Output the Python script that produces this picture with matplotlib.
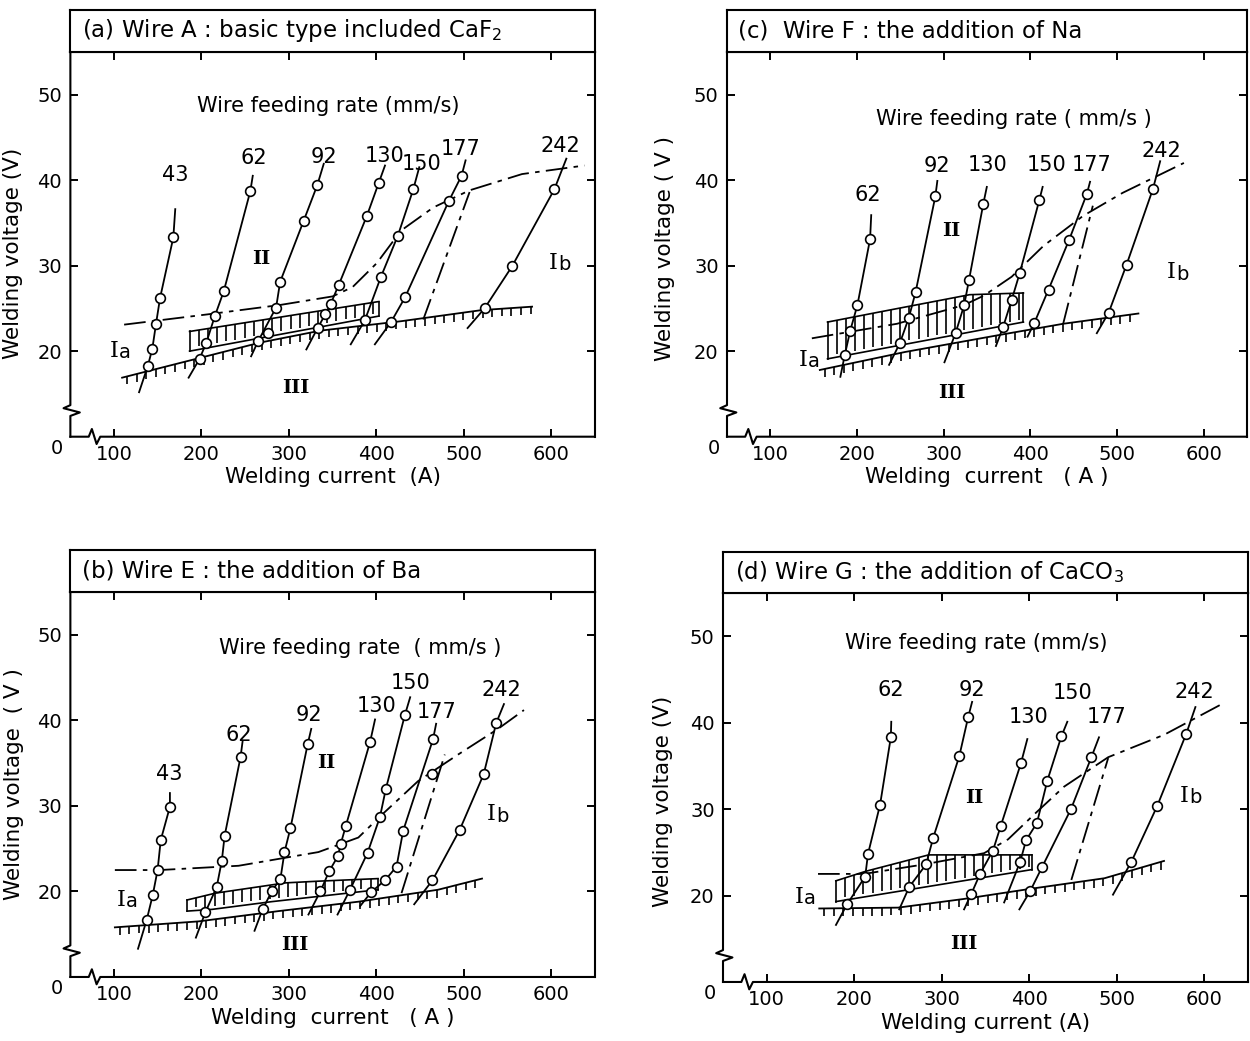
import numpy as np
import matplotlib.pyplot as plt

# ---------------- (a) Wire A ----------------
a_rates = [43, 62, 92, 130, 150, 177, 242]
a_cur = [[138.7, 143.8, 148.0, 152.6, 167.8],
         [197.8, 205.6, 215.3, 225.5, 255.9],
         [265.0, 285.4, 290.0, 316.8, 332.5],
         [332.9, 341.7, 347.7, 356.9, 389.2, 402.6],
         [386.9, 405.4, 424.7, 442.3],
         [416.9, 433.0, 482.8, 497.6],
         [523.9, 555.3, 603.7]]
a_volt = [[18.3, 20.3, 23.2, 26.2, 33.3],
          [19.1, 21.0, 24.1, 27.0, 38.7],
          [21.2, 25.1, 28.1, 35.2, 39.4],
          [22.7, 24.3, 25.5, 27.7, 35.8, 39.6],
          [23.6, 28.7, 33.5, 38.9],
          [23.4, 26.3, 37.5, 40.5],
          [25.0, 29.9, 38.9]]
a_lo_cur = [128.6, 185.3, 256.8, 320.0, 370.8, 398.4, 504.5]
a_lo_volt = [15.2, 16.9, 19.4, 20.2, 20.8, 20.8, 22.7]
a_hi_cur = [170.0, 258.7, 339.9, 410.0, 449.2, 502.2, 617.5]
a_hi_volt = [36.6, 40.5, 41.9, 41.7, 41.5, 42.3, 42.5]
a_extra_cur = [275.9]
a_extra_volt = [22.1]
a_bound_cur = [111.5, 207, 290, 350, 373, 400.7, 428.4, 465.3, 506.8, 566.8, 638.3]
a_bound_volt = [23.1, 24.3, 25.4, 26.4, 27.5, 30.3, 34.1, 36.8, 38.8, 40.7, 41.7]
a_steep_cur = [453.8, 506.8]
a_steep_volt = [23.7, 38.6]
a_low_cur = [109.2, 197.8, 267, 336.2, 428.4, 520.7, 578.3]
a_low_volt = [16.9, 19.2, 21.0, 22.4, 23.5, 24.8, 25.2]
a_band_top_cur = [186.4, 403]
a_band_top_volt = [22.3, 25.8]
a_band_bot_cur = [186.4, 403]
a_band_bot_volt = [20.0, 24.1]

# ---------------- (c) Wire F ----------------
c_rates = [62, 92, 130, 150, 177, 242]
c_cur = [[185.8, 192.2, 200.5, 215.1],
         [249.3, 259.8, 267.6, 290.4],
         [313.7, 323.7, 329.2, 345.7],
         [368.5, 378.5, 387.7, 410.5],
         [404.6, 421.0, 444.7, 465.3],
         [490.4, 511.0, 541.6]]
c_volt = [[19.5, 22.4, 25.4, 33.1],
          [20.9, 23.9, 26.9, 38.1],
          [22.1, 25.4, 28.3, 37.2],
          [22.8, 26.0, 29.1, 37.7],
          [23.3, 27.2, 33.0, 38.4],
          [24.5, 30.1, 39.0]]
c_lo_cur = [180.8, 237.0, 300.9, 360.3, 396.8, 476.7]
c_lo_volt = [17.0, 18.4, 18.7, 20.6, 21.7, 22.1]
c_hi_cur = [216.4, 292.7, 349.8, 414.2, 468.9, 549.8]
c_hi_volt = [35.9, 39.9, 39.2, 39.2, 39.8, 42.2]
c_extra_cur = []
c_extra_volt = []
c_bound_cur = [147.9, 246.1, 323.7, 346.6, 378.5, 415.1, 460.7, 506.4, 577.2]
c_bound_volt = [21.5, 23.2, 25.4, 26.5, 28.7, 32.3, 35.8, 38.5, 42.0]
c_steep_cur = [437.9, 472.1]
c_steep_volt = [23.2, 37.0]
c_low_cur = [157.1, 255.3, 364.8, 437.9, 524.7]
c_low_volt = [17.8, 19.9, 21.9, 23.2, 24.4]
c_band_top_cur = [166, 227, 330, 392]
c_band_top_volt = [23.4, 24.6, 26.6, 26.8]
c_band_bot_cur = [166, 392]
c_band_bot_volt = [19.1, 23.4]

# ---------------- (b) Wire E ----------------
b_rates = [43, 62, 92, 130, 150, 177, 242]
b_cur = [[137.4, 144.3, 149.8, 153.4, 163.9],
         [204.6, 217.4, 223.3, 226.5, 244.7],
         [269.9, 280.4, 290.4, 295.0, 301.8, 321.5],
         [336.0, 346.3, 356.0, 359.5, 365.0, 393.0],
         [370.0, 390.0, 404.2, 411.0, 432.7],
         [394.0, 410.0, 423.2, 430.8, 465.0],
         [464.3, 495.5, 522.9, 537.3]]
b_volt = [[16.7, 19.6, 22.5, 26.0, 29.9],
          [17.6, 20.5, 23.6, 26.5, 35.7],
          [17.9, 20.0, 21.5, 24.6, 27.4, 37.2],
          [20.0, 22.4, 24.1, 25.6, 27.6, 37.5],
          [20.2, 24.5, 28.7, 32.0, 40.6],
          [19.9, 21.3, 22.9, 27.1, 37.8],
          [21.3, 27.2, 33.7, 39.7]]
b_lo_cur = [127.4, 193.6, 260.7, 322.4, 355.7, 381.7, 443.4]
b_lo_volt = [13.3, 14.6, 15.4, 17.3, 17.3, 18.3, 18.5]
b_hi_cur = [163.9, 247.0, 325.6, 398.6, 438.8, 468.5, 546.1]
b_hi_volt = [31.5, 37.5, 39.0, 40.1, 42.7, 39.6, 41.9]
b_extra_cur = [464.0]
b_extra_volt = [33.7]
b_bound_cur = [100.9, 152.0, 242.5, 333.8, 379.5, 406.8, 447.9, 493.6, 539.3, 569.0]
b_bound_volt = [22.5, 22.5, 23.0, 24.6, 26.3, 29.0, 32.9, 36.0, 39.0, 41.2]
b_steep_cur = [428.9, 478.4]
b_steep_volt = [19.8, 36.0]
b_low_cur = [100.9, 196.8, 288.1, 379.5, 470.8, 521.0]
b_low_volt = [15.8, 16.5, 17.7, 18.8, 20.2, 21.5]
b_band_top_cur = [183.5, 216, 296, 334, 402]
b_band_top_volt = [19.0, 19.8, 21.0, 21.2, 21.5]
b_band_bot_cur = [183.5, 212, 280, 402]
b_band_bot_volt = [17.7, 17.9, 18.8, 20.2]

# ---------------- (d) Wire G ----------------
d_rates = [62, 92, 130, 150, 177, 242]
d_cur = [[191.9, 212.5, 215.7, 229.5, 241.8],
         [262.9, 282.1, 290.3, 320.0, 330.1],
         [333.8, 343.8, 358.5, 367.6, 390.5],
         [389.6, 396.4, 408.8, 420.7, 436.7],
         [401.0, 414.7, 447.7, 471.0],
         [516.7, 546.0, 579.4]]
d_volt = [[19.0, 22.2, 24.8, 30.5, 38.3],
          [21.0, 23.6, 26.7, 36.1, 40.6],
          [20.2, 22.5, 25.2, 28.1, 35.3],
          [23.9, 26.4, 28.4, 33.3, 38.4],
          [20.5, 23.3, 30.0, 36.0],
          [23.9, 30.3, 38.7]]
d_lo_cur = [179.1, 251.4, 325.5, 371.3, 388.7, 495.7]
d_lo_volt = [16.6, 18.4, 18.4, 19.2, 18.4, 20.1]
d_hi_cur = [242.3, 334.7, 397.8, 443.5, 479.7, 589.9]
d_hi_volt = [40.1, 42.4, 38.1, 40.1, 38.3, 41.8]
d_extra_cur = []
d_extra_volt = []
d_bound_cur = [158.6, 211.2, 279.8, 348.4, 375.8, 407.9, 439.9, 490.2, 554.3, 622.9]
d_bound_volt = [22.5, 22.5, 23.6, 24.9, 26.5, 29.6, 32.6, 36.0, 38.6, 42.3]
d_steep_cur = [448.1, 490.2]
d_steep_volt = [21.8, 35.9]
d_low_cur = [160, 250, 325, 403, 486, 554]
d_low_volt = [18.5, 18.6, 19.6, 20.8, 22.0, 24.0]
d_band_top_cur = [179, 213, 285, 403]
d_band_top_volt = [21.7, 22.8, 24.7, 24.7]
d_band_bot_cur = [179, 403]
d_band_bot_volt = [19.3, 23.0]

# texts
titles = [r'(a) Wire A : basic type included CaF$_2$',
          r'(c)  Wire F : the addition of Na',
          r'(b) Wire E : the addition of Ba',
          r'(d) Wire G : the addition of CaCO$_3$']
rate_texts = ['Wire feeding rate (mm/s)', 'Wire feeding rate ( mm/s )',
              'Wire feeding rate  ( mm/s )', 'Wire feeding rate (mm/s)']
ylabels = ['Welding voltage (V)', 'Welding voltage ( V )',
           'Welding voltage  ( V )', 'Welding voltage (V)']
xlabels = ['Welding current  (A)', 'Welding  current   ( A )',
           'Welding  current   ( A )', 'Welding current (A)']

# label placement (data coords)
a_lab = ([170, 260, 340, 409, 452, 497, 611], [40.6, 42.6, 42.7, 42.8, 41.9, 43.6, 44.0])
c_lab = ([211.9, 292.7, 351, 418.7, 470.8, 551.1], [38.2, 41.7, 41.8, 41.8, 41.8, 43.4])
b_lab = ([162.6, 242.5, 322.4, 400, 438.8, 469.4, 542.9], [33.7, 38.3, 40.6, 41.7, 44.4, 41.0, 43.5])
d_lab = ([242.3, 334.7, 399.7, 449, 487.9, 588.5], [43.8, 43.8, 40.6, 43.4, 40.7, 43.5])
a_reg = [(105.5, 20.0), (268, 30.8), (308.5, 15.7), (608, 30.3), (345, 48.6)]
c_reg = [(143.4, 19.0), (309, 34.1), (309, 15.1), (568, 29.2), (380.8, 47.1)]
b_reg = [(113.7, 19.0), (342.9, 35.0), (306.4, 13.7), (537, 29.0), (381.7, 48.5)]
d_reg = [(142.5, 19.8), (337, 31.3), (325.5, 14.4), (582.6, 31.5), (339.3, 49.2)]

# axes rectangles [left, bottom, width, height] and title-box heights
rects = [[0.0563, 0.5805, 0.4195, 0.3698],
         [0.5816, 0.5805, 0.4160, 0.3698],
         [0.0563, 0.0615, 0.4195, 0.3698],
         [0.5784, 0.0567, 0.4200, 0.3737]]
title_h = [0.0401, 0.0401, 0.0404, 0.0393]
ylab_pos = [(-0.09, 0.475), (-0.10, 0.49), (-0.088, 0.50), (-0.095, 0.465)]

panels = [
    (a_rates, a_cur, a_volt, a_lo_cur, a_lo_volt, a_hi_cur, a_hi_volt, a_extra_cur, a_extra_volt,
     a_bound_cur, a_bound_volt, a_steep_cur, a_steep_volt, a_low_cur, a_low_volt,
     a_band_top_cur, a_band_top_volt, a_band_bot_cur, a_band_bot_volt, a_lab, a_reg),
    (c_rates, c_cur, c_volt, c_lo_cur, c_lo_volt, c_hi_cur, c_hi_volt, c_extra_cur, c_extra_volt,
     c_bound_cur, c_bound_volt, c_steep_cur, c_steep_volt, c_low_cur, c_low_volt,
     c_band_top_cur, c_band_top_volt, c_band_bot_cur, c_band_bot_volt, c_lab, c_reg),
    (b_rates, b_cur, b_volt, b_lo_cur, b_lo_volt, b_hi_cur, b_hi_volt, b_extra_cur, b_extra_volt,
     b_bound_cur, b_bound_volt, b_steep_cur, b_steep_volt, b_low_cur, b_low_volt,
     b_band_top_cur, b_band_top_volt, b_band_bot_cur, b_band_bot_volt, b_lab, b_reg),
    (d_rates, d_cur, d_volt, d_lo_cur, d_lo_volt, d_hi_cur, d_hi_volt, d_extra_cur, d_extra_volt,
     d_bound_cur, d_bound_volt, d_steep_cur, d_steep_volt, d_low_cur, d_low_volt,
     d_band_top_cur, d_band_top_volt, d_band_bot_cur, d_band_bot_volt, d_lab, d_reg),
]

DASHDOT = (0, (12, 3.5, 2.5, 3.5))
LW = 1.3


def hatched_line(ax, cx, cy, step=11, depth=0.9):
    # boundary line with short ticks hanging below it
    ax.plot(cx, cy, color='k', lw=LW, zorder=2)
    xt = np.arange(cx[0] + step / 2, cx[-1], step)
    yt = np.interp(xt, cx, cy)
    ax.vlines(xt, yt - depth, yt, color='k', lw=1.2, zorder=2)


def comb_band(ax, tc, tv, bc, bv, step=10.5):
    ax.plot(tc, tv, color='k', lw=1.2, zorder=2)
    ax.plot(bc, bv, color='k', lw=1.2, zorder=2)
    ax.plot([tc[0], tc[0]], [tv[0], bv[0]], color='k', lw=1.2, zorder=2)
    ax.plot([tc[-1], tc[-1]], [tv[-1], bv[-1]], color='k', lw=1.2, zorder=2)
    xt = np.arange(tc[0] + step, tc[-1], step)
    ax.vlines(xt, np.interp(xt, bc, bv) + 0.35, np.interp(xt, tc, tv),
              color='k', lw=1.2, zorder=2)


fig = plt.figure(figsize=(12.5, 10.41), dpi=100)

for p, (rates, cur, volt, lo_c, lo_v, hi_c, hi_v, ex_c, ex_v, bd_c, bd_v, st_c, st_v,
        lw_c, lw_v, bt_c, bt_v, bb_c, bb_v, lab, reg) in enumerate(panels):
    x0, y0, w, h = rects[p]
    ax = fig.add_axes([x0, y0, w, h])
    tax = fig.add_axes([x0, y0 + h, w, title_h[p]])
    tax.set_xticks([])
    tax.set_yticks([])
    for s in tax.spines.values():
        s.set_linewidth(1.5)
    tax.text(0.022, 0.5, titles[p], fontsize=16.5, va='center', ha='left',
             transform=tax.transAxes)

    ax.set_xlim(50, 650)
    ax.set_ylim(10, 55)
    ax.set_xticks([100, 200, 300, 400, 500, 600])
    ax.set_yticks([20, 30, 40, 50])
    ax.tick_params(direction='in', top=True, right=True, length=6, width=1.4,
                   labelsize=14, pad=6)
    ax.spines['left'].set_visible(False)
    ax.spines['bottom'].set_visible(False)
    for s in ('top', 'right'):
        ax.spines[s].set_linewidth(1.5)
    # axes with break marks
    ax.plot([0, 0, -0.013, 0.018, 0, 0], [1, 0.082, 0.074, 0.063, 0.054, 0],
            transform=ax.transAxes, color='k', lw=1.5, clip_on=False)
    ax.plot([0, 0.035, 0.041, 0.05, 0.057, 1], [0, 0, 0.02, -0.019, 0, 0],
            transform=ax.transAxes, color='k', lw=1.5, clip_on=False)
    ax.annotate('0', xy=(0, 0), xycoords='axes fraction', xytext=(-13, -12),
                textcoords='offset pixels', fontsize=14, ha='center', va='center')

    ax.set_ylabel(ylabels[p], fontsize=15.5)
    ax.yaxis.set_label_coords(*ylab_pos[p])
    ax.set_xlabel(xlabels[p], fontsize=15.5)
    ax.xaxis.set_label_coords(0.5, -0.08)

    # regions and boundaries
    comb_band(ax, bt_c, bt_v, bb_c, bb_v)
    hatched_line(ax, lw_c, lw_v)
    ax.plot(bd_c, bd_v, color='k', lw=LW, ls=DASHDOT, zorder=2)
    ax.plot(st_c, st_v, color='k', lw=LW, ls=DASHDOT, zorder=2)

    # constant wire feeding rate curves
    for k in range(len(rates)):
        xs = [lo_c[k]] + cur[k] + [hi_c[k]]
        ys = [lo_v[k]] + volt[k] + [hi_v[k]]
        ax.plot(xs, ys, color='k', lw=LW, zorder=3)
        ax.plot(cur[k], volt[k], 'o', ms=7, mfc='white', mec='k', mew=1.2, zorder=4)
        ax.text(lab[0][k], lab[1][k], str(rates[k]), fontsize=15, ha='center', va='center')
    if ex_c:
        ax.plot(ex_c, ex_v, 'o', ms=7, mfc='white', mec='k', mew=1.2, zorder=4)

    (ia, ii, iii, ib, rt) = reg
    ax.text(*ia, 'I', fontsize=16, family='DejaVu Serif', ha='right', va='center')
    ax.text(ia[0], ia[1] - 0.2, 'a', fontsize=14, ha='left', va='center')
    ax.text(*ib, 'I', fontsize=16, family='DejaVu Serif', ha='right', va='center')
    ax.text(ib[0], ib[1] - 0.2, 'b', fontsize=14, ha='left', va='center')
    ax.text(*ii, 'II', fontsize=14, family='DejaVu Serif', weight='bold',
            ha='center', va='center')
    ax.text(*iii, 'III', fontsize=14, family='DejaVu Serif', weight='bold',
            ha='center', va='center')
    ax.text(*rt, rate_texts[p], fontsize=15, ha='center', va='center')

fig.savefig('out.png', dpi=100)
